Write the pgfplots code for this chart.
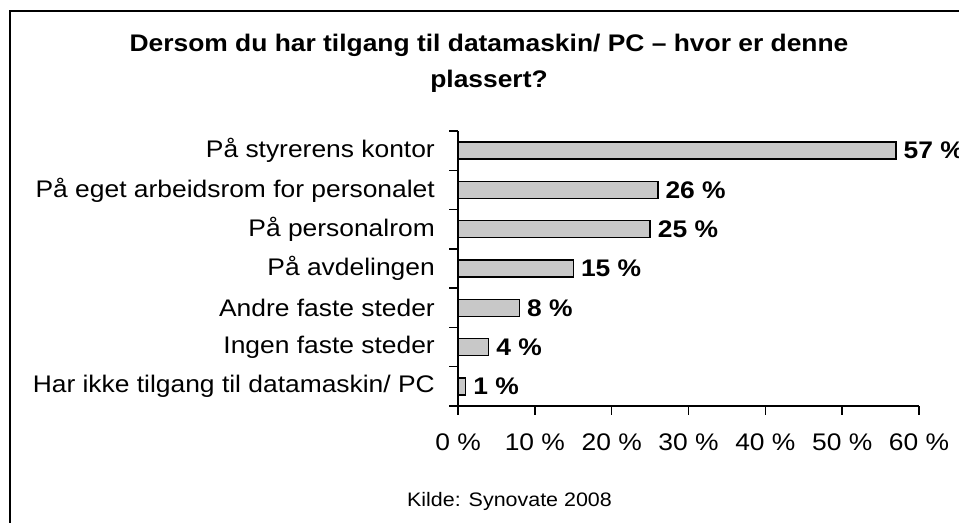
\documentclass[border=0pt]{standalone}
\usepackage{fontspec}
\setmainfont{Liberation Sans}[FakeStretch=1.1]
\usepackage{pgfplots}
\pgfplotsset{compat=1.18}
\definecolor{barfill}{RGB}{200,200,200}
\begin{document}
\begin{tikzpicture}[x=1bp,y=1bp]
\useasboundingbox (0,0) rectangle (959,523);
\clip (0,0) rectangle (959,523);
\draw[line width=2bp] (10,-20) -- (10,512) -- (990,512);
\node[anchor=base, font=\fontsize{24bp}{28bp}\selectfont\bfseries] at (489,471) {Dersom du har tilgang til datamaskin/ PC – hvor er denne};
\node[anchor=base, font=\fontsize{24bp}{28bp}\selectfont\bfseries] at (489,435) {plassert?};
\node[anchor=base, font=\fontsize{19.5bp}{24bp}\selectfont] at (509.5,16) {Kilde: Synovate 2008};
\begin{axis}[
  at={(458bp,117bp)}, anchor=south west,
  scale only axis, width=461bp, height=275bp,
  xbar, bar width=17bp,
  xmin=0, xmax=60, ymin=-0.5, ymax=6.5,
  enlargelimits=false, clip=false,
  axis x line*=bottom, axis y line*=left,
  axis line style={line width=1.5bp, -},
  /pgf/number format/assume math mode=true,
  xtick={0,10,...,60},
  xticklabel={\pgfmathprintnumber{\tick}~\%},
  ytick={0,...,6},
  yticklabels={Har ikke tilgang til datamaskin/ PC, Ingen faste steder, Andre faste steder, På avdelingen, På personalrom, På eget arbeidsrom for personalet, På styrerens kontor},
  minor ytick={-0.5,0.5,...,6.5},
  tick align=outside,
  major tick length=9bp, minor tick length=9bp,
  tick style={line width=1.5bp, black},
  major y tick style={draw=none},
  ticklabel style={font=\fontsize{24bp}{28bp}\selectfont, inner sep=0pt},
  yticklabel style={anchor=east, xshift=-14bp},
  xticklabel style={anchor=north, yshift=-18.5bp},
  nodes near coords={\pgfmathprintnumber{\pgfplotspointmeta}~\%},
  point meta=x,
  nodes near coords style={font=\fontsize{24bp}{28bp}\selectfont\bfseries, anchor=west, inner sep=0pt, xshift=7bp},
]
\addplot[draw=black, line width=1.5bp, fill=barfill] coordinates {(1,0) (4,1) (8,2) (15,3) (25,4) (26,5) (57,6)};
\end{axis}
\end{tikzpicture}
\end{document}
